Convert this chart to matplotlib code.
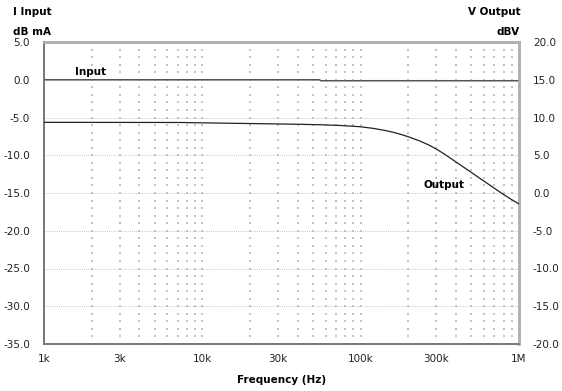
import numpy as np
import matplotlib.pyplot as plt

# Values
freq_in = [1e3, 55e3, 56e3, 1e6]
input_db = [0.0, 0.0, -0.13, -0.13]  # dB mA, left axis

freq_out = [1e3, 7.2e3, 20e3, 41.4e3, 55.4e3, 75e3, 99e3, 120e3, 142e3,
            160e3, 177e3, 200e3, 237e3, 270e3, 303e3, 340e3, 383e3, 430e3,
            490e3, 550e3, 628e3, 700e3, 792e3, 880e3, 1e6]
output_dbv = [9.36, 9.34, 9.20, 9.10, 9.04, 8.94, 8.78, 8.56, 8.29,
              8.05, 7.80, 7.45, 6.88, 6.35, 5.78, 5.12, 4.38, 3.66,
              2.85, 2.12, 1.30, 0.62, -0.15, -0.76, -1.45]  # dBV, right axis

xticks = [1e3, 3e3, 1e4, 3e4, 1e5, 3e5, 1e6]
xlabels = ['1k', '3k', '10k', '30k', '100k', '300k', '1M']
left_ticks = [5, 0, -5, -10, -15, -20, -25, -30, -35]
right_ticks = [20, 15, 10, 5, 0, -5, -10, -15, -20]

fig = plt.figure(figsize=(5.62, 3.91), dpi=100)
ax = fig.add_axes([44 / 562, 1 - 344 / 391, 475 / 562, 302 / 391])
ax.set_xscale('log')
ax.set_xlim(1e3, 1e6)
ax.set_ylim(-35, 5)

# dotted grid: dots at minor log columns x integer rows
cols = [m * 10 ** e for e in range(3, 6) for m in range(1, 10)] + [1e6]
rows = np.arange(-34, 5)
gx, gy = np.meshgrid(cols, rows)
ax.scatter(gx.ravel(), gy.ravel(), s=0.7, color='#c4c4c4', marker='s',
           linewidths=0, zorder=1)
for y in range(-30, 5, 5):
    ax.axhline(y, color='#b4b4b4', lw=0.6, ls=(0, (1, 1.5)), zorder=1)

ax.plot(freq_in, input_db, color='#555555', lw=1.1, zorder=3)

ax2 = ax.twinx()
ax2.set_ylim(-20, 20)
ax2.plot(freq_out, output_dbv, color='#222222', lw=0.9, zorder=3)

ax.set_xticks(xticks)
ax.set_xticklabels(xlabels)
ax.xaxis.set_minor_locator(plt.NullLocator())
ax.set_yticks(left_ticks)
ax.set_yticklabels(['%.1f' % v for v in left_ticks])
ax2.set_yticks(right_ticks)
ax2.set_yticklabels(['%.1f' % v for v in right_ticks])

for a in (ax, ax2):
    a.tick_params(length=0, labelsize=7.5, colors='#222222')
ax.tick_params(axis='x', pad=7)
ax.tick_params(axis='y', pad=10)
ax2.tick_params(axis='y', pad=10)

for a in (ax, ax2):
    a.spines['top'].set_color('#b0b0b0')
    a.spines['top'].set_linewidth(1.8)
    a.spines['right'].set_color('#b0b0b0')
    a.spines['right'].set_linewidth(1.8)
    a.spines['left'].set_color('#777777')
    a.spines['left'].set_linewidth(1.2)
    a.spines['bottom'].set_color('#777777')
    a.spines['bottom'].set_linewidth(1.2)

ax.set_xlabel('Frequency (Hz)', fontsize=7.5, fontweight='bold', labelpad=8)

fig.text(13 / 562, 1 - 12 / 391, 'I Input', fontsize=7.5, fontweight='bold',
         va='center', ha='left')
fig.text(13 / 562, 1 - 32 / 391, 'dB mA', fontsize=7.5, fontweight='bold',
         va='center', ha='left')
fig.text(521 / 562, 1 - 12 / 391, 'V Output', fontsize=7.5, fontweight='bold',
         va='center', ha='right')
fig.text(520 / 562, 1 - 32 / 391, 'dBV', fontsize=7.5, fontweight='bold',
         va='center', ha='right')

ax.text(1.97e3, 1.07, 'Input', fontsize=7.5, fontweight='bold', ha='center',
        va='center')
ax2.text(3.36e5, 1.06, 'Output', fontsize=7.5, fontweight='bold', ha='center',
         va='center')

fig.savefig('out.png', dpi=100)
